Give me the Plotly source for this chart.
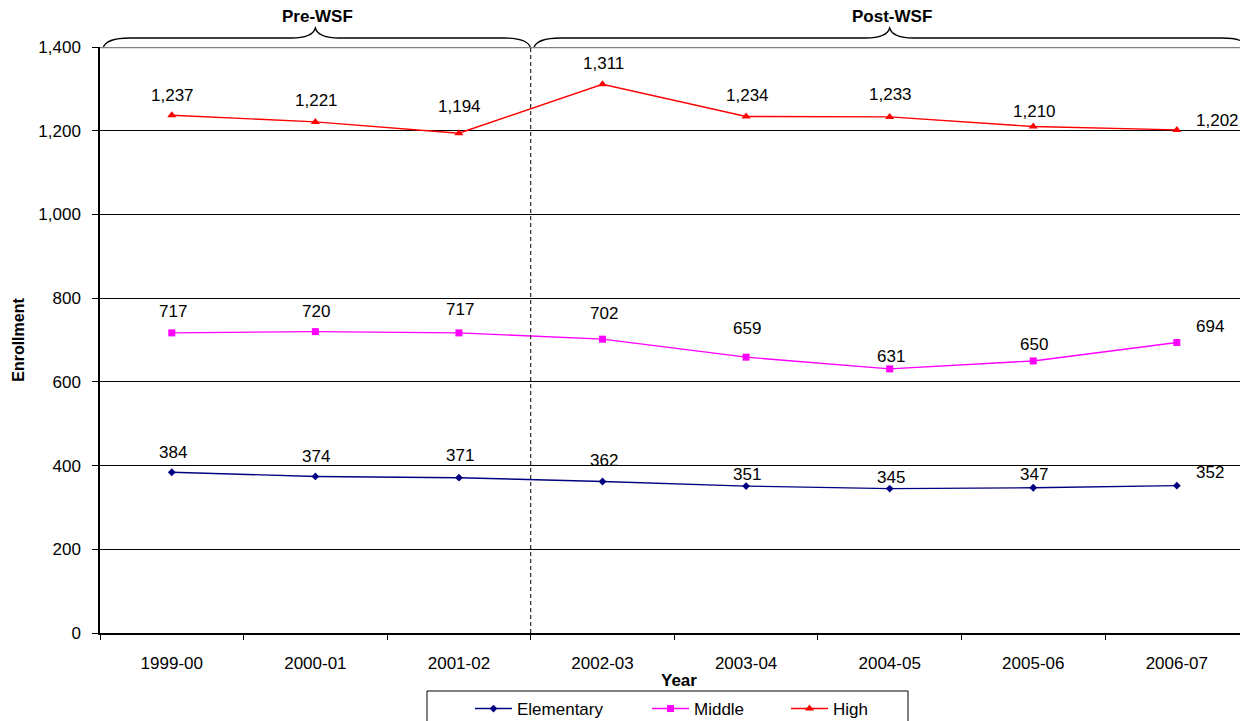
import plotly.graph_objects as go

# ---- data ----
years = ["1999-00", "2000-01", "2001-02", "2002-03", "2003-04", "2004-05", "2005-06", "2006-07"]
elementary = [384, 374, 371, 362, 351, 345, 347, 352]
middle = [717, 720, 717, 702, 659, 631, 650, 694]
high = [1237, 1221, 1194, 1311, 1234, 1233, 1210, 1202]
periods = ["Pre-WSF", "Post-WSF"]
period_bounds = [(-0.5, 2.5), (2.5, 7.5)]

# ---- label placement (style: pixel lift of each data label above its point) ----
label_lift = {
    "Elementary": [20, 20, 22, 21, 12, 11, 13, 13],
    "Middle": [21, 20, 23, 26, 29, 12, 16, 16],
    "High": [20, 21, 27, 21, 21, 22, 15, 9],
}

FONT = "Liberation Sans, Arial, sans-serif"
W, H = 1240, 721
ML, MR, MT, MB = 100, 0, 47, 88
PW, PH = W - ML - MR, H - MT - MB
XR = [-0.5, 7.44]

def px_x(d):  # data x -> pixel
    return ML + (d - XR[0]) / (XR[1] - XR[0]) * PW

def paper_x(p):
    return (p - ML) / PW

def paper_y(p):
    return (H - MB - p) / PH

fig = go.Figure()
series = [
    ("Elementary", elementary, "#000080", "diamond", 6),
    ("Middle", middle, "#FF00FF", "square", 7),
    ("High", high, "#FF0000", "triangle-up", 8),
]
legend_w = {"Elementary": 125, "Middle": 87, "High": 60}
for name, vals, col, sym, ms in series:
    fig.add_trace(go.Scatter(
        x=years, y=vals, mode="lines+markers", name=name,
        line=dict(color=col, width=1.4),
        marker=dict(symbol=sym, size=ms, color=col),
        legendwidth=legend_w[name],
    ))

annotations = []
for name, vals, col, sym, ms in series:
    for i, (yr, v) in enumerate(zip(years, vals)):
        last = i == len(years) - 1
        annotations.append(dict(
            x=yr, y=v, xref="x", yref="y", text=f"{v:,}", showarrow=False,
            font=dict(family=FONT, size=17, color="black"),
            xanchor="left" if last else "center", yanchor="middle",
            xshift=17 if last else 1, yshift=label_lift[name][i],
        ))

# braces
def brace_path(a, b):
    xa, xb = px_x(a) + 3, px_x(b)
    xm = (px_x(a) + px_x(b)) / 2
    ye, yf, yt = 48, 38, 28
    pts = [
        ("M", [(xa, ye)]),
        ("C", [(xa + 2, 41), (xa + 10, yf), (xa + 27, yf)]),
        ("L", [(xm - 24, yf)]),
        ("C", [(xm - 10, yf), (xm - 2, 35), (xm, yt)]),
        ("C", [(xm + 2, 35), (xm + 10, yf), (xm + 24, yf)]),
        ("L", [(xb - 27, yf)]),
        ("C", [(xb - 10, yf), (xb - 2, 41), (xb, ye)]),
    ]
    s = ""
    for cmd, ps in pts:
        s += cmd + " ".join(f"{paper_x(x):.5f},{paper_y(y):.5f}" for x, y in ps) + " "
    return s.strip()

shapes = []
for (a, b), lab in zip(period_bounds, periods):
    shapes.append(dict(type="path", xref="paper", yref="paper", path=brace_path(a, b),
                       line=dict(color="black", width=1.3)))
    annotations.append(dict(x=paper_x((px_x(a) + px_x(b)) / 2 + 2), y=paper_y(17), xref="paper", yref="paper",
                            text=f"<b>{lab}</b>", showarrow=False, xanchor="center", yanchor="middle",
                            font=dict(family=FONT, size=17, color="black")))

# top gray line at 1400
shapes.append(dict(type="line", xref="paper", yref="y", x0=0, x1=1.02, y0=1400, y1=1400,
                   line=dict(color="#808080", width=2.5), layer="above"))
# dashed divider
shapes.append(dict(type="line", xref="x", yref="y", x0=2.5, x1=2.5, y0=0, y1=1400,
                   line=dict(color="black", width=1, dash="4px,3px")))
# legend box
shapes.append(dict(type="rect", xref="paper", yref="paper",
                   x0=paper_x(427), x1=paper_x(908), y0=paper_y(740), y1=paper_y(691),
                   line=dict(color="black", width=1), fillcolor="white", layer="below"))

annotations.append(dict(x=paper_x(679), y=paper_y(681), xref="paper", yref="paper",
                        text="<b>Year</b>", showarrow=False, xanchor="center", yanchor="middle",
                        font=dict(family=FONT, size=17, color="black")))

fig.update_layout(
    width=W, height=H,
    margin=dict(l=ML, r=MR, t=MT, b=MB, autoexpand=False),
    paper_bgcolor="white", plot_bgcolor="white",
    font=dict(family=FONT, size=17, color="black"),
    showlegend=True,
    legend=dict(orientation="h", x=paper_x(470), xanchor="left", y=paper_y(691), yanchor="top",
                bgcolor="rgba(0,0,0,0)", borderwidth=0, itemwidth=37,
                font=dict(family=FONT, size=17, color="black")),
    xaxis=dict(type="category", range=XR, showgrid=False, showline=True, linecolor="black",
               linewidth=1.5, ticks="outside", tickson="boundaries", ticklen=5, tickcolor="black",
               tickfont=dict(family=FONT, size=17, color="black"), ticklabelstandoff=14),
    yaxis=dict(range=[0, 1400], dtick=200, tickformat=",", showgrid=True, gridcolor="black",
               gridwidth=1, zeroline=False, showline=True, linecolor="black", linewidth=1.5,
               ticks="outside", ticklen=6, tickcolor="black", ticklabelstandoff=8,
               tickfont=dict(family=FONT, size=17, color="black"),
               title=dict(text="<b>Enrollment</b>", font=dict(family=FONT, size=16, color="black"),
                          standoff=10)),
    annotations=annotations,
    shapes=shapes,
)

fig.write_html("out.html", config={"displayModeBar": False},
               post_script="document.body.style.margin='0';document.body.style.padding='0';")
